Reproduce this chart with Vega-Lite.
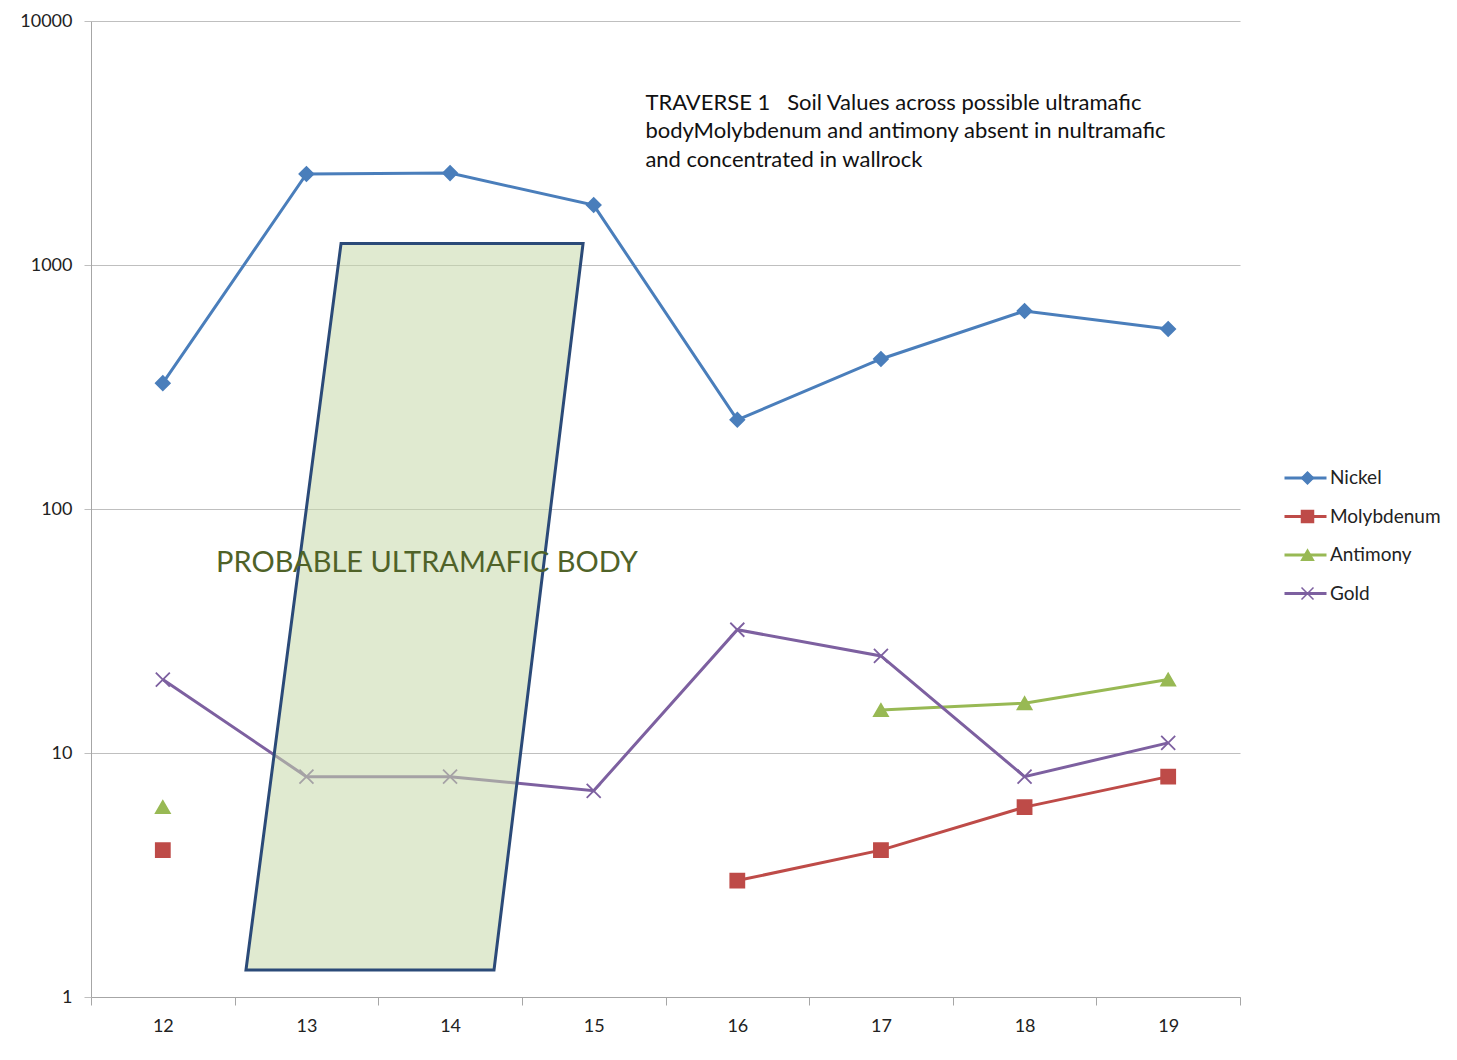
{
  "$schema": "https://vega.github.io/schema/vega-lite/v6.json",
  "width": 1149,
  "height": 976,
  "autosize": {"type": "none"},
  "padding": {"left": 91, "top": 21, "right": 217, "bottom": 63},
  "background": "white",
  "config": {
    "view": {"stroke": null},
    "font": "Lato",
    "axis": {"labelFont": "Lato", "labelColor": "#222222", "labelFontSize": 18}
  },
  "datasets": {
    "soil": [
      {"station": 12, "element": "Nickel", "ppm": 328},
      {"station": 13, "element": "Nickel", "ppm": 2360},
      {"station": 14, "element": "Nickel", "ppm": 2380},
      {"station": 15, "element": "Nickel", "ppm": 1760},
      {"station": 16, "element": "Nickel", "ppm": 232},
      {"station": 17, "element": "Nickel", "ppm": 412},
      {"station": 18, "element": "Nickel", "ppm": 648},
      {"station": 19, "element": "Nickel", "ppm": 547},
      {"station": 12, "element": "Molybdenum", "ppm": 4},
      {"station": 13, "element": "Molybdenum", "ppm": null},
      {"station": 14, "element": "Molybdenum", "ppm": null},
      {"station": 15, "element": "Molybdenum", "ppm": null},
      {"station": 16, "element": "Molybdenum", "ppm": 3},
      {"station": 17, "element": "Molybdenum", "ppm": 4},
      {"station": 18, "element": "Molybdenum", "ppm": 6},
      {"station": 19, "element": "Molybdenum", "ppm": 8},
      {"station": 12, "element": "Antimony", "ppm": 6},
      {"station": 13, "element": "Antimony", "ppm": null},
      {"station": 14, "element": "Antimony", "ppm": null},
      {"station": 15, "element": "Antimony", "ppm": null},
      {"station": 16, "element": "Antimony", "ppm": null},
      {"station": 17, "element": "Antimony", "ppm": 15},
      {"station": 18, "element": "Antimony", "ppm": 16},
      {"station": 19, "element": "Antimony", "ppm": 20},
      {"station": 12, "element": "Gold", "ppm": 20},
      {"station": 13, "element": "Gold", "ppm": 8},
      {"station": 14, "element": "Gold", "ppm": 8},
      {"station": 15, "element": "Gold", "ppm": 7},
      {"station": 16, "element": "Gold", "ppm": 32},
      {"station": 17, "element": "Gold", "ppm": 25},
      {"station": 18, "element": "Gold", "ppm": 8},
      {"station": 19, "element": "Gold", "ppm": 11}
    ],
    "body": [
      {"ppm": 1225, "left": 13.241, "right": 14.926},
      {"ppm": 1.29, "left": 12.579, "right": 14.306}
    ],
    "notes": [
      {"station": 15.36, "ppm": 5070, "label": "TRAVERSE 1\u00a0\u00a0\u00a0Soil Values across possible ultramafic\nbodyMolybdenum and antimony absent in nultramafic\nand concentrated in wallrock"}
    ],
    "bodylabel": [
      {"station": 13.839, "ppm": 60.1, "label": "PROBABLE ULTRAMAFIC BODY"}
    ]
  },
  "resolve": {"legend": {"color": "independent", "shape": "independent", "fill": "independent", "stroke": "independent"}},
  "layer": [
    {
      "data": {"name": "soil"},
      "mark": {"type": "line", "strokeWidth": 3, "invalid": "break-paths-show-domains"},
      "encoding": {
        "x": {
          "field": "station", "type": "quantitative",
          "scale": {"domain": [11.5, 19.5], "nice": false, "zero": false},
          "axis": {
            "title": null,
            "values": [11.5, 12, 12.5, 13, 13.5, 14, 14.5, 15, 15.5, 16, 16.5, 17, 17.5, 18, 18.5, 19, 19.5],
            "labelExpr": "datum.value % 1 == 0 ? format(datum.value, 'd') : ''",
            "labelOverlap": false,
            "labelFlush": false,
            "labelPadding": 12,
            "tickSize": 8,
            "tickColor": "#a6a6a6",
            "tickOpacity": {"condition": {"test": "datum.value % 1 == 0", "value": 0}, "value": 1},
            "domainColor": "#a6a6a6",
            "grid": false
          }
        },
        "y": {
          "field": "ppm", "type": "quantitative",
          "scale": {"type": "log", "domain": [1, 10000], "nice": false},
          "axis": {
            "title": null,
            "values": [1, 10, 100, 1000, 10000],
            "format": "d",
            "grid": true,
            "gridColor": "#bfbfbf",
            "gridWidth": 1.2,
            "tickColor": "#bfbfbf",
            "tickSize": 7,
            "domainColor": "#a6a6a6",
            "labelPadding": 12
          }
        },
        "color": {
          "field": "element", "type": "nominal",
          "scale": {"domain": ["Nickel", "Molybdenum", "Antimony", "Gold"], "range": ["#4a7ebb", "#be4b48", "#98b954", "#7d60a0"]},
          "legend": {
            "title": null,
            "orient": "none",
            "legendX": 1192,
            "legendY": 447,
            "symbolType": "stroke",
            "symbolSize": 1764,
            "symbolStrokeWidth": 3,
            "clipHeight": 20,
            "rowPadding": 18.5,
            "labelFont": "Lato",
            "labelFontSize": 19,
            "labelColor": "#222222",
            "labelOffset": 2
          }
        }
      }
    },
    {
      "data": {"name": "soil"},
      "transform": [{"filter": "datum.ppm != null"}],
      "mark": {"type": "point", "filled": true, "strokeWidth": 1.8, "opacity": 1, "size": 196},
      "encoding": {
        "x": {"field": "station", "type": "quantitative"},
        "y": {"field": "ppm", "type": "quantitative"},
        "shape": {
          "field": "element", "type": "nominal",
          "scale": {"domain": ["Nickel", "Molybdenum", "Antimony", "Gold"], "range": ["diamond", "square", "triangle-up", "M-1,-1L1,1M1,-1L-1,1"]},
          "legend": {
            "title": null,
            "orient": "none",
            "legendX": 1207,
            "legendY": 447,
            "symbolSize": 144,
            "clipHeight": 20,
            "rowPadding": 18.5,
            "labelFontSize": 19,
            "labelExpr": "''",
            "symbolStrokeWidth": 1.5
          }
        },
        "fill": {
          "field": "element", "type": "nominal",
          "scale": {"domain": ["Nickel", "Molybdenum", "Antimony", "Gold"], "range": ["#4a7ebb", "#be4b48", "#98b954", "#7d60a0"]},
          "legend": {"title": null, "orient": "none", "legendX": 1207, "legendY": 447, "symbolSize": 144, "clipHeight": 20, "rowPadding": 18.5, "labelFontSize": 19, "labelExpr": "''", "symbolStrokeWidth": 1.5}
        },
        "stroke": {
          "field": "element", "type": "nominal",
          "scale": {"domain": ["Nickel", "Molybdenum", "Antimony", "Gold"], "range": ["#4a7ebb", "#be4b48", "#98b954", "#7d60a0"]},
          "legend": {"title": null, "orient": "none", "legendX": 1207, "legendY": 447, "symbolSize": 144, "clipHeight": 20, "rowPadding": 18.5, "labelFontSize": 19, "labelExpr": "''", "symbolStrokeWidth": 1.5}
        }
      }
    },
    {
      "data": {"name": "body"},
      "mark": {"type": "area", "orient": "horizontal", "fill": "#c7d9aa", "fillOpacity": 0.55, "stroke": "#2b4a78", "strokeWidth": 3, "strokeJoin": "miter"},
      "encoding": {
        "y": {"field": "ppm", "type": "quantitative"},
        "x": {"field": "left", "type": "quantitative"},
        "x2": {"field": "right"}
      }
    },
    {
      "data": {"name": "bodylabel"},
      "mark": {"type": "text", "font": "Lato", "fontSize": 29, "color": "#4f6228", "align": "center", "baseline": "middle"},
      "encoding": {
        "x": {"field": "station", "type": "quantitative"},
        "y": {"field": "ppm", "type": "quantitative"},
        "text": {"field": "label"}
      }
    },
    {
      "data": {"name": "notes"},
      "mark": {"type": "text", "font": "Lato", "fontSize": 22, "color": "#111111", "align": "left", "baseline": "top", "lineBreak": "\n", "lineHeight": 28.5},
      "encoding": {
        "x": {"field": "station", "type": "quantitative"},
        "y": {"field": "ppm", "type": "quantitative"},
        "text": {"field": "label"}
      }
    }
  ]
}
